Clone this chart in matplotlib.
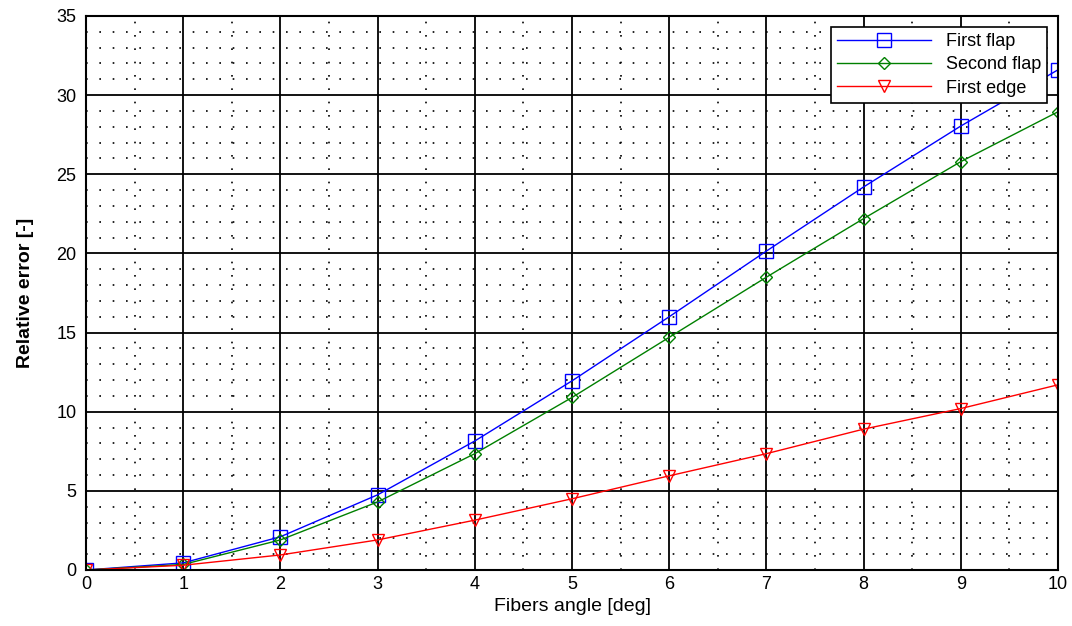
import matplotlib
matplotlib.use("Agg")
import matplotlib.pyplot as plt
from matplotlib.ticker import MultipleLocator

angle = [0, 1, 2, 3, 4, 5, 6, 7, 8, 9, 10]
first_flap = [0.0, 0.45, 2.1, 4.75, 8.15, 11.95, 16.0, 20.15, 24.2, 28.05, 31.6]
second_flap = [0.0, 0.35, 1.9, 4.3, 7.35, 10.9, 14.7, 18.5, 22.2, 25.8, 28.95]
first_edge = [0.0, 0.3, 0.95, 1.9, 3.15, 4.5, 5.95, 7.35, 8.9, 10.2, 11.7]

plt.rcParams['font.family'] = ['Liberation Sans', 'DejaVu Sans']

fig = plt.figure(figsize=(10.72, 6.26), dpi=100)
ax = fig.add_axes([86 / 1072, 1 - 570 / 626, (1058 - 86) / 1072, (570 - 16) / 626])

ax.plot(angle, first_flap, color="blue", marker="s", mfc="none", ms=10, lw=1, label="First flap")
ax.plot(angle, second_flap, color="green", marker="D", mfc="none", ms=6.5, lw=1, label="Second flap")
ax.plot(angle, first_edge, color="red", marker="v", mfc="none", ms=9, lw=1, label="First edge")

ax.set_xlim(0, 10)
ax.set_ylim(0, 35)
ax.xaxis.set_major_locator(MultipleLocator(1))
ax.xaxis.set_minor_locator(MultipleLocator(0.5))
ax.yaxis.set_major_locator(MultipleLocator(5))
ax.yaxis.set_minor_locator(MultipleLocator(1))
ax.grid(which="minor", color="black", linestyle=(0, (1, 7)), linewidth=1.2, zorder=0)
ax.grid(which="major", color="black", linestyle="-", linewidth=1.3, zorder=0.5)
ax.set_axisbelow(True)
for s in ax.spines.values():
    s.set_linewidth(1.5)
ax.tick_params(which="both", direction="in", labelsize=13, length=0)
ax.tick_params(axis="x", pad=4)
ax.tick_params(axis="y", pad=7)

ax.set_xlabel("Fibers angle [deg]", fontsize=14, labelpad=4)
ax.set_ylabel("Relative error [-]", fontsize=14, fontweight="bold", labelpad=16)

leg = ax.legend(loc="upper right", fontsize=13, fancybox=False, framealpha=1,
                edgecolor="black", borderaxespad=0.6, handlelength=5.2,
                labelspacing=0.35, borderpad=0.35)
leg.get_frame().set_linewidth(1.2)

fig.savefig("out.png", dpi=100)
